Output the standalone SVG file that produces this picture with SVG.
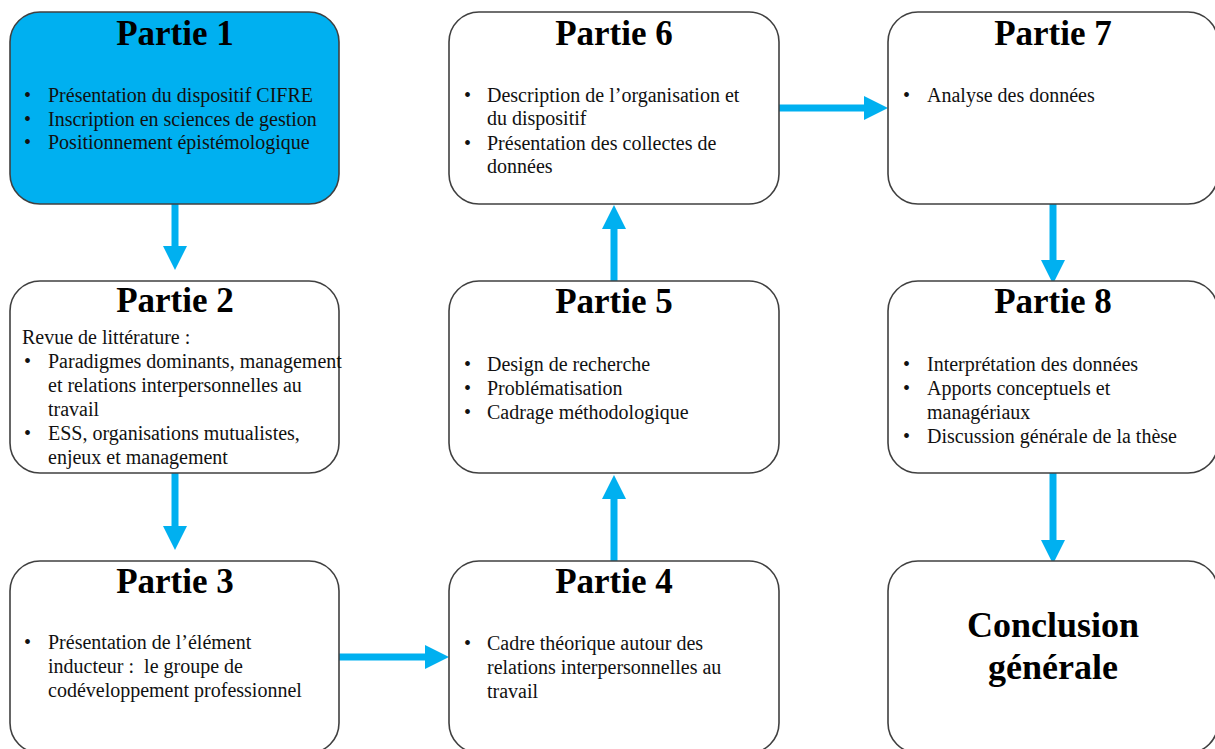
<svg xmlns="http://www.w3.org/2000/svg" width="1215" height="749" viewBox="0 0 1215 749">
<style>
.box{fill:#fff;stroke:#404040;stroke-width:1.6}
.title{font-family:"Liberation Serif","Times New Roman",serif;font-weight:bold;font-size:35px;fill:#000;text-anchor:middle}
.concl{font-family:"Liberation Serif","Times New Roman",serif;font-weight:bold;font-size:36px;fill:#000;text-anchor:middle}
.txt{font-family:"Liberation Serif","Times New Roman",serif;font-size:20px;fill:#111}
.arrow{stroke:#00B0F0;stroke-width:7;fill:none}
</style>
<defs>
<marker id="head" markerUnits="userSpaceOnUse" markerWidth="24" markerHeight="24" viewBox="0 0 24 24" refX="0" refY="12" orient="auto">
<path d="M0,0 L24,12 L0,24 Z" fill="#00B0F0"/>
</marker>
</defs>
<rect width="1215" height="749" fill="#fff"/>

<g id="connectors">
<line class="arrow" x1="175" y1="204" x2="175" y2="246" marker-end="url(#head)"/>
<line class="arrow" x1="175" y1="473" x2="175" y2="526" marker-end="url(#head)"/>
<line class="arrow" x1="339" y1="657" x2="425" y2="657" marker-end="url(#head)"/>
<line class="arrow" x1="614" y1="561" x2="614" y2="499" marker-end="url(#head)"/>
<line class="arrow" x1="614" y1="281" x2="614" y2="229" marker-end="url(#head)"/>
<line class="arrow" x1="779" y1="108" x2="864" y2="108" marker-end="url(#head)"/>
<line class="arrow" x1="1053" y1="204" x2="1053" y2="260" marker-end="url(#head)"/>
<line class="arrow" x1="1053" y1="473" x2="1053" y2="540" marker-end="url(#head)"/>
</g>

<g id="partie1">
<rect class="box" x="10" y="12" width="329" height="192" rx="30" ry="30" style="fill:#00B0F0"/>
<text class="title" x="175" y="45">Partie 1</text>
<text class="txt"><tspan x="24" y="102">•</tspan><tspan x="48" y="102">Présentation du dispositif CIFRE</tspan></text>
<text class="txt"><tspan x="24" y="126">•</tspan><tspan x="48" y="126">Inscription en sciences de gestion</tspan></text>
<text class="txt"><tspan x="24" y="149">•</tspan><tspan x="48" y="149">Positionnement épistémologique</tspan></text>
</g>

<g id="partie2">
<rect class="box" x="10" y="281" width="329" height="192" rx="30" ry="30"/>
<text class="title" x="175" y="312">Partie 2</text>
<text class="txt" x="22" y="344">Revue de littérature :</text>
<text class="txt"><tspan x="24" y="368">•</tspan><tspan x="48" y="368">Paradigmes dominants, management</tspan></text>
<text class="txt" x="48" y="392">et relations interpersonnelles au</text>
<text class="txt" x="48" y="416">travail</text>
<text class="txt"><tspan x="24" y="440">•</tspan><tspan x="48" y="440">ESS, organisations mutualistes,</tspan></text>
<text class="txt" x="48" y="464">enjeux et management</text>
</g>

<g id="partie3">
<rect class="box" x="10" y="561" width="329" height="192" rx="30" ry="30"/>
<text class="title" x="175" y="593">Partie 3</text>
<text class="txt"><tspan x="24" y="649">•</tspan><tspan x="48" y="649">Présentation de l’élément</tspan></text>
<text class="txt" x="48" y="673" xml:space="preserve">inducteur :  le groupe de</text>
<text class="txt" x="48" y="697">codéveloppement professionnel</text>
</g>

<g id="partie4">
<rect class="box" x="449" y="561" width="330" height="192" rx="30" ry="30"/>
<text class="title" x="614" y="593">Partie 4</text>
<text class="txt"><tspan x="464" y="650">•</tspan><tspan x="487" y="650">Cadre théorique autour des</tspan></text>
<text class="txt" x="487" y="674">relations interpersonnelles au</text>
<text class="txt" x="487" y="698">travail</text>
</g>

<g id="partie5">
<rect class="box" x="449" y="281" width="330" height="192" rx="30" ry="30"/>
<text class="title" x="614" y="313">Partie 5</text>
<text class="txt"><tspan x="464" y="371">•</tspan><tspan x="487" y="371">Design de recherche</tspan></text>
<text class="txt"><tspan x="464" y="395">•</tspan><tspan x="487" y="395">Problématisation</tspan></text>
<text class="txt"><tspan x="464" y="419">•</tspan><tspan x="487" y="419">Cadrage méthodologique</tspan></text>
</g>

<g id="partie6">
<rect class="box" x="449" y="12" width="330" height="192" rx="30" ry="30"/>
<text class="title" x="614" y="45">Partie 6</text>
<text class="txt"><tspan x="464" y="102">•</tspan><tspan x="487" y="102">Description de l’organisation et</tspan></text>
<text class="txt" x="487" y="125">du dispositif</text>
<text class="txt"><tspan x="464" y="150">•</tspan><tspan x="487" y="150">Présentation des collectes de</tspan></text>
<text class="txt" x="487" y="173">données</text>
</g>

<g id="partie7">
<rect class="box" x="888" y="12" width="330" height="192" rx="30" ry="30"/>
<text class="title" x="1053" y="45">Partie 7</text>
<text class="txt"><tspan x="903" y="102">•</tspan><tspan x="927" y="102">Analyse des données</tspan></text>
</g>

<g id="partie8">
<rect class="box" x="888" y="281" width="330" height="192" rx="30" ry="30"/>
<text class="title" x="1053" y="313">Partie 8</text>
<text class="txt"><tspan x="903" y="371">•</tspan><tspan x="927" y="371">Interprétation des données</tspan></text>
<text class="txt"><tspan x="903" y="395">•</tspan><tspan x="927" y="395">Apports conceptuels et</tspan></text>
<text class="txt" x="927" y="419">managériaux</text>
<text class="txt"><tspan x="903" y="443">•</tspan><tspan x="927" y="443">Discussion générale de la thèse</tspan></text>
</g>

<g id="conclusion">
<rect class="box" x="888" y="561" width="330" height="192" rx="30" ry="30"/>
<text class="concl" x="1053" y="637">Conclusion</text>
<text class="concl" x="1053" y="679">générale</text>
</g>
</svg>
